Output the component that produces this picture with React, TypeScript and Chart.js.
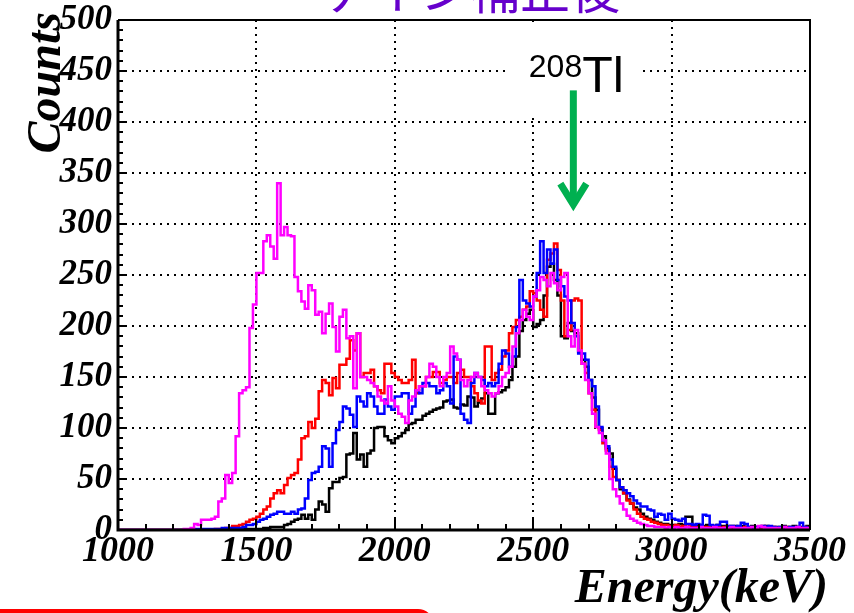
import React, { useEffect, useRef } from "react";
import { Chart, registerables } from "chart.js";

Chart.register(...registerables);

// ---- binning ----
const BIN_START = 1000;
const BIN_WIDTH = 12.5;

// ---- axis ticks ----
const X_TICKS = [1000, 1500, 2000, 2500, 3000, 3500];
const Y_TICKS = [0, 50, 100, 150, 200, 250, 300, 350, 400, 450, 500];
const X_MINOR_STEP = 100;
const Y_MINOR_STEP = 10;

// ---- text ----
const TITLE = "ゲイン補正後";
const X_TITLE = "Energy(keV)";
const Y_TITLE = "Counts";
const PEAK_MASS = "208";
const PEAK_ELEMENT = "Tl";

// ---- series (counts per 12.5 keV bin, from 1000 keV) ----
const magenta = [
  0, 0, 0, 0, 0, 0, 0, 0, 0, 0,
  0, 0, 0, 0, 0, 0, 0, 0, 0, 1,
  1, 2, 6, 5, 10, 10, 10, 11, 13, 28,
  31, 54, 46, 56, 92, 134, 137, 140, 198, 221,
  252, 252, 283, 289, 278, 266, 340, 289, 297, 289,
  288, 248, 234, 224, 217, 240, 235, 211, 214, 193,
  212, 222, 199, 175, 209, 216, 188, 190, 139, 193,
  150, 150, 147, 144, 141, 131, 127, 124, 141, 127,
  121, 114, 111, 105, 127, 131, 137, 141, 141, 150,
  163, 160, 150, 141, 150, 154, 180, 173, 167, 147,
  141, 147, 150, 154, 150, 141, 137, 134, 131, 134,
  141, 150, 154, 160, 180, 193, 206, 216, 209, 206,
  229, 235, 248, 245, 239, 252, 242, 235, 248, 252,
  190, 180, 196, 176, 163, 147, 134, 114, 101, 95,
  88, 75, 50, 40, 33, 26, 20, 14, 11, 9,
  7, 6, 5, 4, 4, 3, 3, 3, 2, 3,
  2, 3, 2, 2, 3, 2, 2, 2, 3, 2,
  2, 2, 3, 2, 2, 2, 2, 3, 2, 2,
  2, 2, 2, 3, 2, 4, 3, 2, 2, 2,
  2, 2, 3, 2, 2, 2, 3, 2, 2, 2,
];

const red = [
  0, 0, 0, 0, 0, 0, 0, 0, 0, 0,
  0, 0, 0, 0, 0, 0, 0, 0, 0, 0,
  0, 0, 0, 0, 0, 0, 0, 0, 1, 1,
  1, 2, 2, 4, 4, 5, 6, 8, 10, 11,
  13, 16, 20, 23, 31, 36, 39, 36, 44, 51,
  54, 56, 69, 90, 92, 106, 100, 109, 136, 147,
  144, 132, 149, 139, 162, 162, 168, 186, 176, 193,
  150, 154, 154, 157, 141, 137, 134, 163, 163, 154,
  150, 147, 144, 144, 147, 167, 134, 141, 141, 150,
  150, 155, 155, 144, 147, 150, 150, 144, 154, 157,
  150, 150, 141, 134, 127, 124, 180, 180, 147, 154,
  157, 170, 176, 193, 199, 206, 209, 216, 219, 234,
  232, 225, 216, 209, 265, 271, 281, 255, 225, 190,
  196, 225, 227, 225, 163, 154, 134, 118, 101, 98,
  85, 78, 62, 52, 49, 42, 36, 29, 26, 20,
  16, 13, 11, 10, 8, 7, 6, 5, 5, 4,
  4, 5, 3, 4, 3, 4, 3, 3, 4, 3,
  3, 2, 3, 3, 2, 3, 2, 2, 3, 2,
  2, 3, 2, 2, 3, 2, 4, 2, 2, 3,
  2, 2, 2, 3, 2, 2, 2, 2, 3, 2,
];

const blue = [
  0, 0, 0, 0, 0, 0, 0, 0, 0, 0,
  0, 0, 0, 0, 0, 0, 0, 0, 0, 0,
  0, 0, 1, 1, 1, 1, 1, 1, 1, 1,
  2, 2, 2, 2, 2, 2, 3, 5, 5, 6,
  8, 10, 11, 13, 15, 16, 18, 18, 16, 16,
  18, 16, 20, 21, 31, 49, 56, 57, 62, 82,
  80, 62, 85, 98, 106, 121, 119, 113, 101, 131,
  126, 121, 134, 131, 121, 114, 114, 128, 121, 118,
  131, 131, 134, 134, 114, 121, 137, 134, 144, 144,
  141, 141, 134, 137, 144, 141, 124, 170, 167, 114,
  108, 105, 144, 154, 150, 147, 141, 144, 141, 144,
  163, 176, 173, 160, 170, 199, 245, 225, 222, 219,
  229, 252, 283, 252, 275, 261, 275, 245, 239, 229,
  225, 203, 190, 173, 173, 167, 147, 141, 121, 101,
  88, 82, 69, 62, 49, 42, 39, 36, 33, 29,
  26, 23, 23, 20, 19, 13, 16, 15, 10, 16,
  11, 10, 9, 11, 6, 6, 5, 6, 5, 15,
  14, 5, 4, 5, 8, 8, 4, 4, 3, 4,
  7, 6, 3, 2, 3, 3, 4, 3, 4, 3,
  2, 3, 3, 2, 3, 3, 3, 7, 3, 2,
];

const black = [
  0, 0, 0, 0, 0, 0, 0, 0, 0, 0,
  0, 0, 0, 0, 0, 0, 0, 0, 0, 0,
  0, 0, 0, 0, 0, 0, 0, 0, 0, 0,
  0, 0, 0, 0, 0, 0, 1, 1, 1, 1,
  1, 1, 2, 2, 3, 3, 3, 3, 5, 6,
  8, 10, 11, 15, 11, 15, 10, 20, 28, 25,
  18, 41, 47, 47, 51, 52, 74, 75, 95, 69,
  74, 62, 75, 78, 100, 101, 101, 92, 88, 85,
  90, 92, 95, 98, 104, 105, 108, 108, 112, 114,
  116, 118, 119, 120, 126, 127, 128, 120, 119, 123,
  122, 131, 130, 121, 125, 129, 134, 114, 114, 134,
  135, 137, 140, 147, 160, 170, 195, 206, 212, 216,
  199, 202, 206, 230, 258, 261, 245, 230, 190, 188,
  203, 195, 193, 175, 167, 160, 147, 130, 118, 100,
  92, 80, 75, 60, 49, 40, 36, 30, 26, 22,
  20, 16, 13, 11, 10, 8, 7, 6, 6, 5,
  5, 5, 6, 5, 13, 13, 5, 4, 5, 4,
  5, 4, 4, 5, 4, 4, 3, 4, 4, 3,
  4, 3, 3, 4, 3, 3, 3, 4, 3, 3,
  3, 3, 4, 3, 3, 4, 3, 3, 3, 4,
];

// annotation anchor in data units
const ARROW = { x: 2645, top: 431, tip: 316 };
const LABEL = { x: 2677, y: 429 };
const LABEL_BOX = { x0: 2400, x1: 2890, y0: 406 };

function toSteps(values: number[]) {
  const pts = values.map((v, i) => ({ x: BIN_START + i * BIN_WIDTH, y: v }));
  pts.push({ x: BIN_START + values.length * BIN_WIDTH, y: values[values.length - 1] });
  return pts;
}

const SERIF_BI = (size: number) => `italic bold ${size}px "Liberation Serif", "Times New Roman", serif`;

const decorPlugin = {
  id: "decor",
  beforeDatasetsDraw(chart: any) {
    const { ctx, chartArea: a, scales } = chart;
    const x = scales.x, y = scales.y;
    ctx.save();
    ctx.strokeStyle = "#000";
    ctx.lineWidth = 2;
    ctx.setLineDash([2, 5]);
    X_TICKS.slice(1, -1).forEach((v) => {
      const px = Math.round(x.getPixelForValue(v));
      ctx.beginPath();
      ctx.moveTo(px, a.top);
      ctx.lineTo(px, a.bottom);
      ctx.stroke();
    });
    Y_TICKS.slice(1, -1).forEach((v) => {
      const py = Math.round(y.getPixelForValue(v));
      ctx.beginPath();
      ctx.moveTo(a.left, py);
      ctx.lineTo(a.right, py);
      ctx.stroke();
    });
    ctx.setLineDash([]);
    // white box behind the isotope label
    const bx0 = x.getPixelForValue(LABEL_BOX.x0);
    const bx1 = x.getPixelForValue(LABEL_BOX.x1);
    const by0 = y.getPixelForValue(LABEL_BOX.y0);
    ctx.fillStyle = "#fff";
    ctx.fillRect(bx0, a.top + 2, bx1 - bx0, by0 - a.top - 2);
    ctx.restore();
  },
  afterDatasetsDraw(chart: any) {
    const { ctx, chartArea: a, scales } = chart;
    const x = scales.x, y = scales.y;
    ctx.save();
    ctx.strokeStyle = "#000";
    ctx.setLineDash([]);
    // frame
    ctx.lineWidth = 2;
    ctx.beginPath();
    ctx.moveTo(a.left, a.top);
    ctx.lineTo(a.right, a.top);
    ctx.lineTo(a.right, a.bottom);
    ctx.stroke();
    ctx.lineWidth = 3;
    ctx.beginPath();
    ctx.moveTo(a.left, a.top);
    ctx.lineTo(a.left, a.bottom);
    ctx.lineTo(a.right, a.bottom);
    ctx.stroke();
    // inward ticks
    ctx.lineWidth = 2;
    const yMin = Y_TICKS[0], yMax = Y_TICKS[Y_TICKS.length - 1];
    for (let v = yMin; v <= yMax; v += Y_MINOR_STEP) {
      const py = Math.round(y.getPixelForValue(v));
      const len = Y_TICKS.includes(v) ? 9 : 5;
      ctx.beginPath();
      ctx.moveTo(a.left, py);
      ctx.lineTo(a.left + len, py);
      ctx.stroke();
    }
    const xMin = X_TICKS[0], xMax = X_TICKS[X_TICKS.length - 1];
    for (let v = xMin; v <= xMax; v += X_MINOR_STEP) {
      const px = Math.round(x.getPixelForValue(v));
      const len = X_TICKS.includes(v) ? 11 : 6;
      ctx.beginPath();
      ctx.moveTo(px, a.bottom);
      ctx.lineTo(px, a.bottom - len);
      ctx.stroke();
    }
    // axis titles
    ctx.fillStyle = "#000";
    ctx.font = SERIF_BI(48);
    ctx.textAlign = "right";
    ctx.textBaseline = "alphabetic";
    ctx.fillText(X_TITLE, 828, 602);

    ctx.save();
    ctx.translate(60, 12);
    ctx.rotate(-Math.PI / 2);
    ctx.font = SERIF_BI(48);
    ctx.textAlign = "right";
    ctx.fillText(Y_TITLE, 0, 0);
    ctx.restore();

    // title (cut at top)
    ctx.font = '50px "Noto Sans CJK JP", sans-serif';
    ctx.fillStyle = "#6600cc";
    ctx.textAlign = "center";
    ctx.fillText(TITLE, 470, 9);

    // arrow
    const ax = x.getPixelForValue(ARROW.x);
    const aTop = y.getPixelForValue(ARROW.top);
    const aTip = y.getPixelForValue(ARROW.tip);
    ctx.strokeStyle = "#00b050";
    ctx.lineWidth = 7;
    ctx.beginPath();
    ctx.moveTo(ax, aTop);
    ctx.lineTo(ax, aTip - 3);
    ctx.stroke();
    ctx.lineJoin = "miter";
    ctx.beginPath();
    ctx.moveTo(ax - 13, aTip - 24);
    ctx.lineTo(ax, aTip - 3);
    ctx.lineTo(ax + 13, aTip - 24);
    ctx.stroke();

    // isotope label
    const lx = x.getPixelForValue(LABEL.x);
    const ly = y.getPixelForValue(LABEL.y);
    ctx.fillStyle = "#000";
    ctx.textAlign = "right";
    ctx.font = '32px "Liberation Sans", Arial, sans-serif';
    ctx.fillText(PEAK_MASS, lx, ly - 15);
    ctx.textAlign = "left";
    ctx.font = '50px "Liberation Sans", Arial, sans-serif';
    ctx.fillText(PEAK_ELEMENT, lx, ly);

    // red rounded box at bottom-left
    ctx.strokeStyle = "#ff0000";
    ctx.lineWidth = 4;
    ctx.beginPath();
    (ctx as any).roundRect(-20, 611, 452, 60, 14);
    ctx.stroke();
    ctx.restore();
  },
};

export default function App() {
  const ref = useRef<HTMLCanvasElement | null>(null);
  useEffect(() => {
    if (!ref.current) return;
    const mk = (label: string, data: number[], color: string) => ({
      label,
      data: toSteps(data),
      borderColor: color,
      backgroundColor: color,
      borderWidth: 2.5,
      pointRadius: 0,
      stepped: "before" as const,
      fill: false,
    });
    const chart = new Chart(ref.current, {
      type: "line",
      data: {
        datasets: [
          mk("magenta", magenta, "#ff00ff"),
          mk("blue", blue, "#0000ff"),
          mk("red", red, "#ff0000"),
          mk("black", black, "#000000"),
        ],
      },
      options: {
        animation: false,
        responsive: false,
        devicePixelRatio: 1,
        layout: { padding: { top: 20, right: 44, left: 0, bottom: 0 } },
        plugins: { legend: { display: false }, tooltip: { enabled: false } },
        scales: {
          x: {
            type: "linear",
            min: X_TICKS[0],
            max: X_TICKS[X_TICKS.length - 1],
            afterBuildTicks: (s: any) => {
              s.ticks = X_TICKS.map((v) => ({ value: v }));
            },
            afterFit: (s: any) => {
              s.height = 83;
              s.paddingLeft = 0;
              s.paddingRight = 0;
            },
            grid: { display: false, drawTicks: false },
            border: { display: false },
            ticks: {
              autoSkip: false,
              maxRotation: 0,
              padding: 0,
              color: "#000",
              font: { family: '"Liberation Serif", serif', size: 36, style: "italic", weight: "bold" },
              callback: (v: any) => String(v),
            },
          },
          y: {
            type: "linear",
            min: Y_TICKS[0],
            max: Y_TICKS[Y_TICKS.length - 1],
            afterBuildTicks: (s: any) => {
              s.ticks = Y_TICKS.map((v) => ({ value: v }));
            },
            afterFit: (s: any) => {
              s.width = 118;
              s.paddingTop = 0;
              s.paddingBottom = 0;
            },
            grid: { display: false, drawTicks: false },
            border: { display: false },
            ticks: {
              autoSkip: false,
              padding: 6,
              color: "#000",
              font: { family: '"Liberation Serif", serif', size: 35, style: "italic", weight: "bold" },
              callback: (v: any) => String(v),
            },
          },
        },
      },
      plugins: [decorPlugin],
    } as any);
    return () => chart.destroy();
  }, []);
  return (
    <div style={{ position: "fixed", left: 0, top: 0, width: 854, height: 613, overflow: "hidden", background: "#fff" }}>
      <canvas ref={ref} width={854} height={613} style={{ display: "block" }} />
    </div>
  );
}
